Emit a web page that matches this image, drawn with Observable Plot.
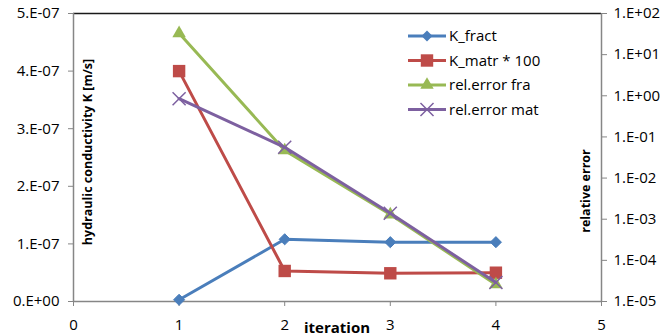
<!DOCTYPE html>
<html>
<head>
<meta charset="utf-8">
<script src="https://cdn.jsdelivr.net/npm/d3@7"></script>
<script src="https://cdn.jsdelivr.net/npm/@observablehq/plot@0.6"></script>
<style>
  html, body { margin: 0; padding: 0; background: white; }
  #chart { position: relative; width: 665px; height: 336px; font-family: "Open Sans", sans-serif; }
  #chart > svg, #chart > .layer { position: absolute; left: 0; top: 0; }
  .lbl { position: absolute; font-weight: bold; font-size: 12px; color: #000; white-space: nowrap; }
</style>
</head>
<body>
<div id="chart"></div>
<script>
// ---- data ----
const iterations = [1, 2, 3, 4];
const kFract = [0.03e-7, 1.08e-7, 1.03e-7, 1.03e-7];
const kMatr100 = [4.0e-7, 0.53e-7, 0.49e-7, 0.50e-7];
const relErrFra = [33, 0.047, 1.3e-3, 2.6e-5];
const relErrMat = [0.85, 0.056, 1.4e-3, 2.9e-5];

const xTicks = [0, 1, 2, 3, 4, 5];
const leftTicks = [0, 1e-7, 2e-7, 3e-7, 4e-7, 5e-7];
const leftTickLabels = ["0.E+00", "1.E-07", "2.E-07", "3.E-07", "4.E-07", "5.E-07"];
const rightTicks = [1e-5, 1e-4, 1e-3, 1e-2, 1e-1, 1, 10, 100];
const rightTickLabels = ["1.E-05", "1.E-04", "1.E-03", "1.E-02", "1.E-01", "1.E+00", "1.E+01", "1.E+02"];

const seriesNames = ["K_fract", "K_matr * 100", "rel.error fra", "rel.error mat"];
const colors = ["#4A7EBB", "#BE4B48", "#98B954", "#7D60A0"];
const symbols = ["diamond2", "square", "triangle", "times"];

const W = 665, H = 336;
const M = {left: 73, right: 64, top: 13, bottom: 35};
const gray = "#868686";

const toRows = (vals) => iterations.map((x, i) => ({x, y: vals[i]}));
const leftLabel = new Map(leftTicks.map((t, i) => [t, leftTickLabels[i]]));
const rightLabel = new Map(rightTicks.map((t, i) => [t, rightTickLabels[i]]));

const common = {
  width: W, height: H,
  marginLeft: M.left, marginRight: M.right, marginTop: M.top, marginBottom: M.bottom,
  style: {fontFamily: "Open Sans, sans-serif", fontSize: "15px", color: "#000", background: "none", overflow: "visible"}
};

// Primary (linear) chart
const p1 = Plot.plot({
  ...common,
  x: {domain: [0, 5]},
  y: {domain: [0, 5e-7]},
  marks: [
    Plot.ruleY([5e-7], {stroke: "#1a1a1a", strokeWidth: 1.5}),
    Plot.ruleX([0], {stroke: gray, strokeWidth: 1.5}),
    Plot.ruleX([5], {stroke: gray, strokeWidth: 1.5}),
    Plot.ruleY([0], {stroke: gray, strokeWidth: 1.5}),
    Plot.axisX({ticks: xTicks, tickSize: 5, tickPadding: 13, label: null, stroke: gray, tickFormat: d3.format("d")}),
    Plot.axisY({ticks: leftTicks, tickSize: 5, tickPadding: 9, label: null, stroke: gray, tickFormat: d => leftLabel.get(d)}),
    Plot.line(toRows(kFract), {x: "x", y: "y", stroke: colors[0], strokeWidth: 3}),
    Plot.dot(toRows(kFract), {x: "x", y: "y", symbol: symbols[0], fill: colors[0], stroke: colors[0], strokeWidth: 1, r: 5}),
    Plot.line(toRows(kMatr100), {x: "x", y: "y", stroke: colors[1], strokeWidth: 3}),
    Plot.dot(toRows(kMatr100), {x: "x", y: "y", symbol: symbols[1], fill: colors[1], stroke: "none", r: 7})
  ]
});

// Secondary (log) chart
const p2 = Plot.plot({
  ...common,
  x: {domain: [0, 5], axis: null},
  y: {type: "log", domain: [1e-5, 1e2]},
  marks: [
    Plot.axisY({anchor: "right", ticks: rightTicks, tickSize: 5, tickPadding: 7, label: null, stroke: gray, tickFormat: d => rightLabel.get(d)}),
    Plot.line(toRows(relErrFra), {x: "x", y: "y", stroke: colors[2], strokeWidth: 3}),
    Plot.dot(toRows(relErrFra), {x: "x", y: "y", symbol: symbols[2], fill: colors[2], stroke: "none", r: 5}),
    Plot.line(toRows(relErrMat), {x: "x", y: "y", stroke: colors[3], strokeWidth: 3}),
    Plot.dot(toRows(relErrMat), {x: "x", y: "y", symbol: symbols[3], fill: "none", stroke: colors[3], strokeWidth: 1.5, r: 6})
  ]
});

const chart = document.getElementById("chart");
chart.append(p1, p2);

// Axis titles
function addLabel(text, x, y, rotate, size) {
  const d = document.createElement("div");
  d.className = "lbl";
  d.textContent = text;
  d.style.fontSize = size + "px";
  d.style.left = x + "px";
  d.style.top = y + "px";
  d.style.transform = `translate(-50%, -50%)` + (rotate ? ` rotate(${rotate}deg)` : "");
  chart.append(d);
}
addLabel("hydraulic conductivity K [m/s]", 87, 152, -90, 12.5);
addLabel("relative error", 585, 191, -90, 12.5);
addLabel("iteration", 337, 327, 0, 15);

// Legend
const leg = d3.create("svg").attr("class", "layer").attr("width", W).attr("height", H)
  .style("overflow", "visible").style("pointer-events", "none");
const rowY = [36, 60.5, 85, 109.5];
const symMap = {diamond2: d3.symbolDiamond2, square: d3.symbolSquare, triangle: d3.symbolTriangle, times: d3.symbolTimes};
const symSize = [78, 154, 78, 113];
seriesNames.forEach((name, i) => {
  const g = leg.append("g").attr("transform", `translate(0,${rowY[i]})`);
  g.append("line").attr("x1", 408).attr("x2", 446).attr("y1", 0).attr("y2", 0)
    .attr("stroke", colors[i]).attr("stroke-width", 3);
  const path = g.append("path").attr("transform", "translate(427,0)")
    .attr("d", d3.symbol(symMap[symbols[i]], symSize[i])());
  if (symbols[i] === "times") path.attr("fill", "none").attr("stroke", colors[i]).attr("stroke-width", 1.5);
  else path.attr("fill", colors[i]);
  g.append("text").attr("x", 449).attr("y", 0).attr("dy", "0.35em")
    .attr("font-family", "Open Sans, sans-serif").attr("font-size", 15).attr("fill", "#000").text(name);
});
chart.append(leg.node());
</script>
</body>
</html>
